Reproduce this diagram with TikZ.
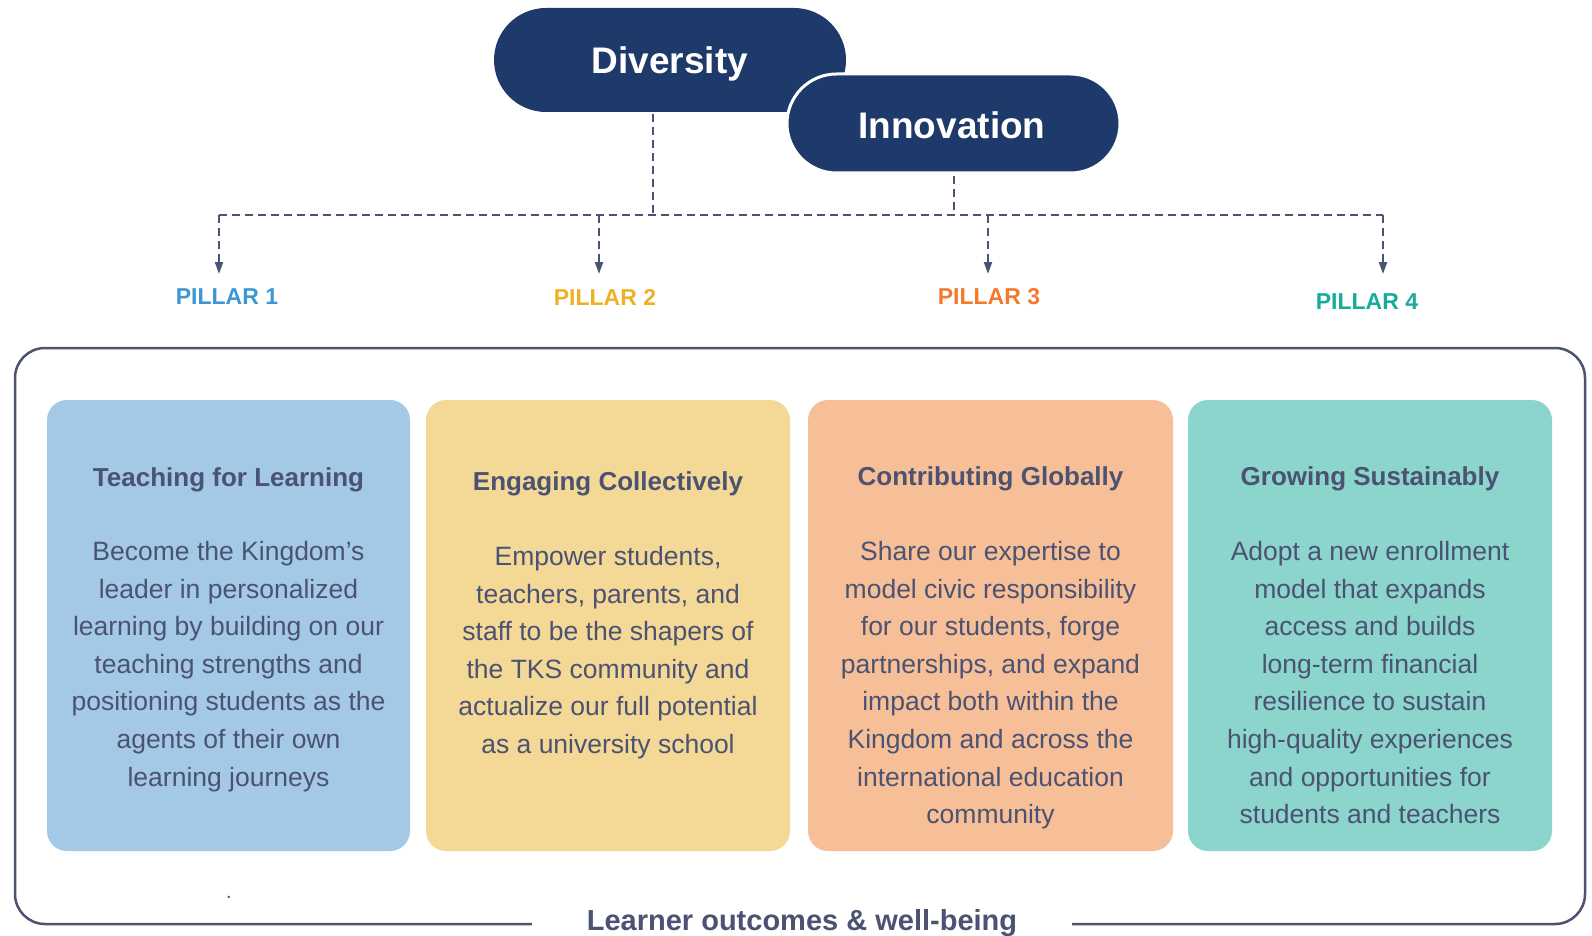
\documentclass[tikz,border=0pt]{standalone}
\usepackage{fontspec}
\setmainfont{Liberation Sans}
\usetikzlibrary{arrows.meta}
\definecolor{navy}{HTML}{1D3A6A}
\definecolor{slate}{HTML}{4B5272}
\definecolor{pone}{HTML}{3D97D3}
\definecolor{ptwo}{HTML}{EEB024}
\definecolor{pthree}{HTML}{F27A2C}
\definecolor{pfour}{HTML}{17AB9B}
\definecolor{cone}{HTML}{A3C9E7}
\definecolor{ctwo}{HTML}{F4D896}
\definecolor{cthree}{HTML}{F7BF98}
\definecolor{cfour}{HTML}{8BD5CC}
\tikzset{
  pilltext/.style={text=white, font=\fontsize{37}{40}\selectfont\bfseries, inner sep=0pt},
  dline/.style={draw=slate, line width=2pt, dash pattern=on 8pt off 5pt},
  arr/.style={dline, -{Triangle[length=12pt,width=8pt]}},
  pillarlabel/.style={font=\fontsize{23}{26}\selectfont\bfseries, inner sep=0pt},
  card/.style={rounded corners=20pt, draw=none},
  cardtitle/.style={font=\fontsize{26}{30}\selectfont\bfseries, text=slate, inner sep=0pt},
  cardbody/.style={font=\fontsize{26.5}{37.6}\selectfont, text=slate, inner sep=0pt, align=center, anchor=north},
}
\begin{document}
\begin{tikzpicture}[x=1pt,y=-1pt]
\useasboundingbox (0,0) rectangle (1592,936);
% outer frame
\draw[slate, line width=2.5pt, rounded corners=30pt] (15,348) rectangle (1585,924);
\node[fill=white, inner xsep=55pt, inner ysep=4pt, text=slate, font=\fontsize{29}{32}\selectfont\bfseries] (lo) at (802,923) {Learner outcomes \& well-being};
% pills
\fill[navy, rounded corners=52pt] (494,8) rectangle (846,112);
\node[pilltext] (div) at (670,64) {Diversity};
\filldraw[fill=navy, draw=white, line width=3pt, rounded corners=49.5pt] (787,74) rectangle (1120,173);
\node[pilltext] (inn) at (952,125) {Innovation};
% connector coordinates
\coordinate (ds) at (653,114);
\coordinate (is) at (954,176);
\coordinate (hl) at (219,215);
\coordinate (hr) at (1383,215);
\coordinate (a1) at (219,274);
\coordinate (a2) at (599,274);
\coordinate (a3) at (988,274);
\coordinate (a4) at (1383,274);
\draw[dline] (ds) -- (ds |- hl);
\draw[dline] (is) -- (is |- hl);
\draw[dline] (hl) -- (hr);
\draw[arr] (hl) -- (a1);
\draw[arr] (a2 |- hl) -- (a2);
\draw[arr] (a3 |- hl) -- (a3);
\draw[arr] (hr) -- (a4);
% pillar labels
\node[pillarlabel, text=pone] (p1) at (227,297) {PILLAR 1};
\node[pillarlabel, text=ptwo] (p2) at (605,297) {PILLAR 2};
\node[pillarlabel, text=pthree] (p3) at (989,297) {PILLAR 3};
\node[pillarlabel, text=pfour] (p4) at (1367,302) {PILLAR 4};
% cards
\fill[card, cone] (47,400) rectangle (410,851);
\fill[card, ctwo] (426,400) rectangle (790,851);
\fill[card, cthree] (808,400) rectangle (1173,851);
\fill[card, cfour] (1188,400) rectangle (1552,851);
\node[cardtitle] (t1) at (228.5,480) {Teaching for Learning};
\node[cardtitle] (t2) at (608,484) {Engaging Collectively};
\node[cardtitle] (t3) at (990.5,479) {Contributing Globally};
\node[cardtitle] (t4) at (1370,479) {Growing Sustainably};
\node[cardbody] (b1) at (228.5,541) {Become the Kingdom’s\\leader in personalized\\learning by building on our\\teaching strengths and\\positioning students as the\\agents of their own\\learning journeys};
\node[cardbody] (b2) at (608,546) {Empower students,\\teachers, parents, and\\staff to be the shapers of\\the TKS community and\\actualize our full potential\\as a university school};
\node[cardbody] (b3) at (990.5,541) {Share our expertise to\\model civic responsibility\\for our students, forge\\partnerships, and expand\\impact both within the\\Kingdom and across the\\international education\\community};
\node[cardbody] (b4) at (1370,541) {Adopt a new enrollment\\model that expands\\access and builds\\long-term financial\\resilience to sustain\\high-quality experiences\\and opportunities for\\students and teachers};
\node[text=slate, font=\fontsize{20}{22}\selectfont, inner sep=0pt] (dot) at (229,897) {.};
\end{tikzpicture}
\end{document}
